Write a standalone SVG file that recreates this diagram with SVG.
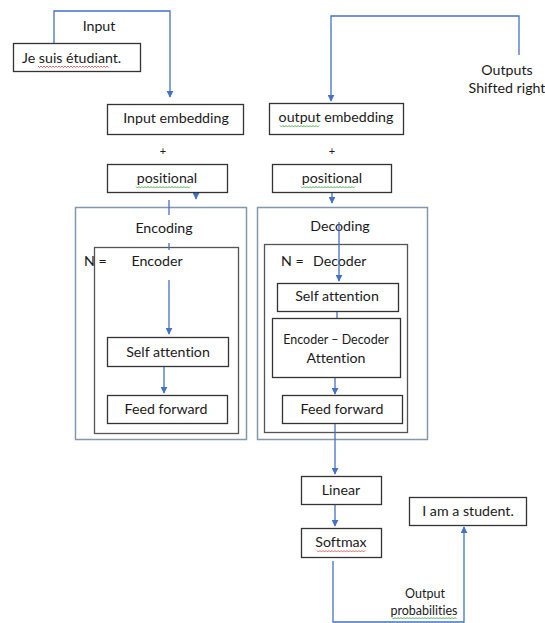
<svg xmlns="http://www.w3.org/2000/svg" width="545" height="623" viewBox="0 0 545 623">
<style>
text{font-family:Lato,"Open Sans","Liberation Sans",sans-serif;font-size:14.2px;fill:#1a1a1a;font-variant-ligatures:none;}
.c{text-anchor:middle;}
.box{fill:#fff;stroke:#333;stroke-width:1.3;}
.outer{fill:none;stroke:#8497b0;stroke-width:1.5;}
.inner{fill:none;stroke:#555;stroke-width:1.3;}
.con{fill:none;stroke:#4472c4;stroke-width:1.3;}
.sq-r{fill:none;stroke:#e04040;stroke-width:0.8;}
.sq-g{fill:none;stroke:#30a030;stroke-width:0.8;}
</style>
<defs>
<marker id="ah" viewBox="0 0 10 10" refX="9" refY="5" markerWidth="7" markerHeight="7" markerUnits="userSpaceOnUse" orient="auto">
<path d="M0,0 L10,5 L0,10 z" fill="#4472c4"/>
</marker>
</defs>
<rect width="545" height="623" fill="#fff"/>

<g id="encoding">
<rect class="outer" x="75.5" y="207.5" width="171" height="232"/>
<text class="c" x="164" y="233">Encoding</text>
</g>
<g id="decoding">
<rect class="outer" x="257.5" y="207.5" width="170" height="232"/>
<text class="c" x="340" y="231">Decoding</text>
</g>
<g id="encoder">
<rect class="inner" x="94.5" y="247.5" width="144" height="186"/>
<text x="84" y="266">N =</text>
<text class="c" x="157" y="266">Encoder</text>
</g>
<g id="decoder">
<rect class="inner" x="264.5" y="244.5" width="143" height="188"/>
<text x="281" y="266">N =</text>
<text x="313" y="266">Decoder</text>
</g>

<g id="connectors">
<path class="con" d="M54,43 V11 H170 V97" marker-end="url(#ah)"/>
<path class="con" d="M519,55 V16 H331 V101" marker-end="url(#ah)"/>
<path class="con" d="M196,193 V199" marker-end="url(#ah)"/>
<path class="con" d="M332,193 V203" marker-end="url(#ah)"/>
<path class="con" d="M169,200 V215"/>
<path class="con" d="M169,243 V250"/>
<path class="con" d="M169,280 V334" marker-end="url(#ah)"/>
<path class="con" d="M164,367 V393" marker-end="url(#ah)"/>
<path class="con" d="M339,222 V281" marker-end="url(#ah)"/>
<path class="con" d="M337,311 V330" marker-end="url(#ah)"/>
<path class="con" d="M335,377 V394" marker-end="url(#ah)"/>
<path class="con" d="M335,423 V474" marker-end="url(#ah)"/>
<path class="con" d="M335,504 V526" marker-end="url(#ah)"/>
<path class="con" d="M333,561 V622 H464 V527" marker-end="url(#ah)"/>
</g>

<g id="input-label"><text class="c" x="99" y="31">Input</text></g>
<g id="je-suis">
<rect class="box" x="13.5" y="43.5" width="127" height="28"/>
<text x="22" y="63">Je suis étudiant.</text>
<path class="sq-r" d="M38,66 l1.5,1.5 l1.5,-1.5 l1.5,1.5 l1.5,-1.5 l1.5,1.5 l1.5,-1.5 l1.5,1.5 l1.5,-1.5 l1.5,1.5 l1.5,-1.5 l1.5,1.5 l1.5,-1.5 l1.5,1.5 l1.5,-1.5 l1.5,1.5 l1.5,-1.5 l1.5,1.5 l1.5,-1.5 l1.5,1.5 l1.5,-1.5 l1.5,1.5 l1.5,-1.5 l1.5,1.5 l1.5,-1.5 l1.5,1.5 l1.5,-1.5 l1.5,1.5 l1.5,-1.5 l1.5,1.5 l1.5,-1.5 l1.5,1.5 l1.5,-1.5 l1.5,1.5 l1.5,-1.5 l1.5,1.5 l1.5,-1.5 l1.5,1.5 l1.5,-1.5 l1.5,1.5 l1.5,-1.5 l1.5,1.5 l1.5,-1.5 l1.5,1.5 l1.5,-1.5 l1.5,1.5 l1.5,-1.5 l1.5,1.5"/>
</g>
<g id="input-embedding">
<rect class="box" x="107.5" y="104.5" width="136" height="30"/>
<text class="c" x="176" y="123">Input embedding</text>
</g>
<g id="plus-left"><text class="c" x="163" y="155" style="font-size:11px">+</text></g>
<g id="positional-left">
<rect class="box" x="107.5" y="164.5" width="120" height="28"/>
<text class="c" x="167" y="183">positional</text>
<path class="sq-g" d="M136,186.5 l1.5,1.5 l1.5,-1.5 l1.5,1.5 l1.5,-1.5 l1.5,1.5 l1.5,-1.5 l1.5,1.5 l1.5,-1.5 l1.5,1.5 l1.5,-1.5 l1.5,1.5 l1.5,-1.5 l1.5,1.5 l1.5,-1.5 l1.5,1.5 l1.5,-1.5 l1.5,1.5 l1.5,-1.5 l1.5,1.5 l1.5,-1.5 l1.5,1.5 l1.5,-1.5 l1.5,1.5 l1.5,-1.5 l1.5,1.5 l1.5,-1.5 l1.5,1.5 l1.5,-1.5 l1.5,1.5 l1.5,-1.5 l1.5,1.5 l1.5,-1.5 l1.5,1.5 l1.5,-1.5 l1.5,1.5 l1.5,-1.5"/>
</g>
<g id="output-embedding">
<rect class="box" x="269.5" y="103.5" width="134" height="31"/>
<text class="c" x="336" y="122">output embedding</text>
<path class="sq-g" d="M280,125.5 l1.5,1.5 l1.5,-1.5 l1.5,1.5 l1.5,-1.5 l1.5,1.5 l1.5,-1.5 l1.5,1.5 l1.5,-1.5 l1.5,1.5 l1.5,-1.5 l1.5,1.5 l1.5,-1.5 l1.5,1.5 l1.5,-1.5 l1.5,1.5 l1.5,-1.5 l1.5,1.5 l1.5,-1.5 l1.5,1.5 l1.5,-1.5 l1.5,1.5 l1.5,-1.5 l1.5,1.5 l1.5,-1.5 l1.5,1.5 l1.5,-1.5"/>
</g>
<g id="plus-right"><text class="c" x="332" y="155" style="font-size:11px">+</text></g>
<g id="positional-right">
<rect class="box" x="272.5" y="164.5" width="119" height="28"/>
<text class="c" x="332" y="183">positional</text>
<path class="sq-g" d="M301,186.5 l1.5,1.5 l1.5,-1.5 l1.5,1.5 l1.5,-1.5 l1.5,1.5 l1.5,-1.5 l1.5,1.5 l1.5,-1.5 l1.5,1.5 l1.5,-1.5 l1.5,1.5 l1.5,-1.5 l1.5,1.5 l1.5,-1.5 l1.5,1.5 l1.5,-1.5 l1.5,1.5 l1.5,-1.5 l1.5,1.5 l1.5,-1.5 l1.5,1.5 l1.5,-1.5 l1.5,1.5 l1.5,-1.5 l1.5,1.5 l1.5,-1.5 l1.5,1.5 l1.5,-1.5 l1.5,1.5 l1.5,-1.5 l1.5,1.5 l1.5,-1.5 l1.5,1.5 l1.5,-1.5 l1.5,1.5 l1.5,-1.5"/>
</g>
<g id="outputs-label">
<text class="c" x="507" y="75">Outputs</text>
<text class="c" x="507" y="93">Shifted right</text>
</g>

<g id="enc-self-attention">
<rect class="box" x="107.5" y="337.5" width="121" height="29"/>
<text class="c" x="168" y="357">Self attention</text>
</g>
<g id="enc-feed-forward">
<rect class="box" x="107.5" y="395.5" width="120" height="28"/>
<text class="c" x="166" y="414">Feed forward</text>
</g>
<g id="dec-self-attention">
<rect class="box" x="277.5" y="283.5" width="121" height="28"/>
<text class="c" x="337" y="301">Self attention</text>
</g>
<g id="enc-dec-attention">
<rect class="box" x="272.5" y="318.5" width="128" height="59"/>
<text class="c" x="336" y="344" style="font-size:12.5px">Encoder – Decoder</text>
<text class="c" x="336" y="363">Attention</text>
</g>
<g id="dec-feed-forward">
<rect class="box" x="282.5" y="395.5" width="120" height="28"/>
<text class="c" x="342" y="414">Feed forward</text>
</g>
<g id="linear">
<rect class="box" x="301.5" y="476.5" width="80" height="28"/>
<text class="c" x="341" y="495">Linear</text>
</g>
<g id="softmax">
<rect class="box" x="301.5" y="528.5" width="80" height="29"/>
<text class="c" x="341" y="547">Softmax</text>
<path class="sq-r" d="M317,550.5 l1.5,1.5 l1.5,-1.5 l1.5,1.5 l1.5,-1.5 l1.5,1.5 l1.5,-1.5 l1.5,1.5 l1.5,-1.5 l1.5,1.5 l1.5,-1.5 l1.5,1.5 l1.5,-1.5 l1.5,1.5 l1.5,-1.5 l1.5,1.5 l1.5,-1.5 l1.5,1.5 l1.5,-1.5 l1.5,1.5 l1.5,-1.5 l1.5,1.5 l1.5,-1.5 l1.5,1.5 l1.5,-1.5 l1.5,1.5 l1.5,-1.5 l1.5,1.5 l1.5,-1.5 l1.5,1.5 l1.5,-1.5 l1.5,1.5 l1.5,-1.5"/>
</g>
<g id="i-am-a-student">
<rect class="box" x="409.5" y="497.5" width="117" height="28"/>
<text class="c" x="468" y="516">I am a student.</text>
</g>
<g id="output-prob-label">
<text class="c" x="425" y="598" style="font-size:12.5px">Output</text>
<text class="c" x="424" y="615" style="font-size:12.5px">probabilities</text>
<path class="sq-g" d="M392,617.5 l1.5,1.5 l1.5,-1.5 l1.5,1.5 l1.5,-1.5 l1.5,1.5 l1.5,-1.5 l1.5,1.5 l1.5,-1.5 l1.5,1.5 l1.5,-1.5 l1.5,1.5 l1.5,-1.5 l1.5,1.5 l1.5,-1.5 l1.5,1.5 l1.5,-1.5 l1.5,1.5 l1.5,-1.5 l1.5,1.5 l1.5,-1.5 l1.5,1.5 l1.5,-1.5 l1.5,1.5 l1.5,-1.5 l1.5,1.5 l1.5,-1.5 l1.5,1.5 l1.5,-1.5 l1.5,1.5 l1.5,-1.5 l1.5,1.5 l1.5,-1.5 l1.5,1.5 l1.5,-1.5 l1.5,1.5 l1.5,-1.5 l1.5,1.5 l1.5,-1.5 l1.5,1.5 l1.5,-1.5 l1.5,1.5 l1.5,-1.5 l1.5,1.5"/>
</g>
</svg>
